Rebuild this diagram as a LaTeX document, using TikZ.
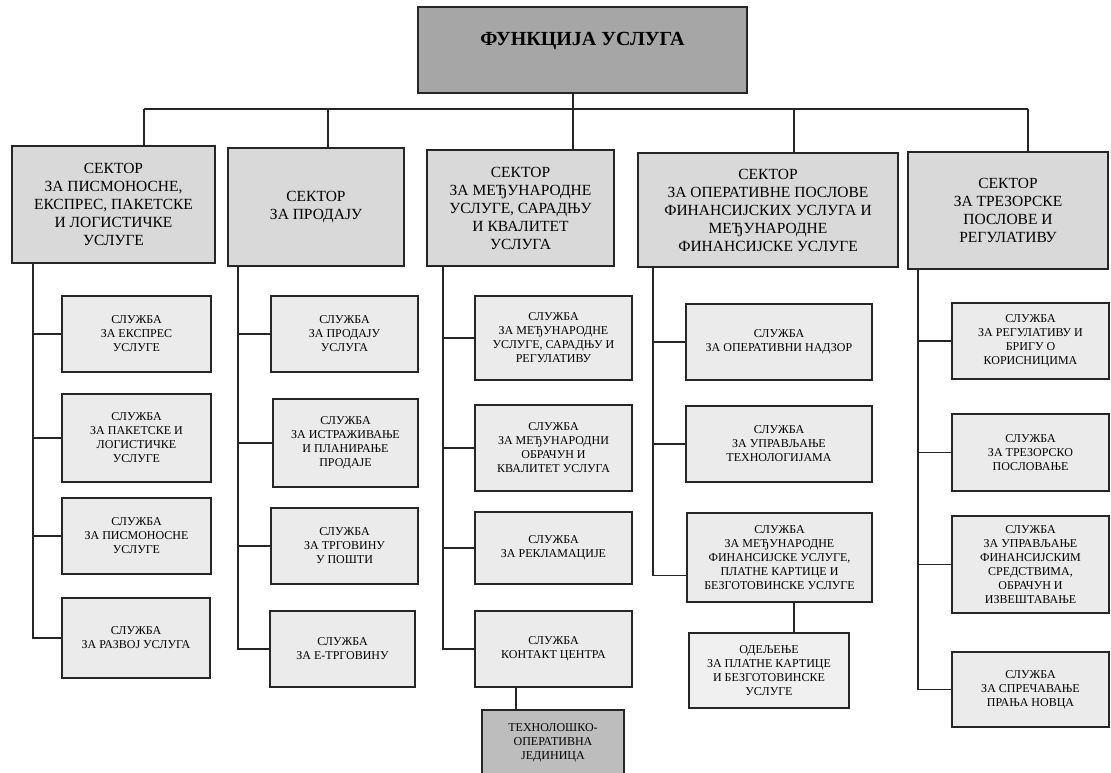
\documentclass[tikz,border=0pt]{standalone}
\usepackage{fontspec}
\setmainfont{Liberation Serif}

\begin{document}
\begin{tikzpicture}[
    x=1pt,y=-1pt,
    line width=1.2pt,line join=miter,
    box/.style={rectangle,draw=black!85,inner sep=0pt,align=center},
    head/.style={box,fill=gray!70,font=\bfseries\fontsize{20}{24}\selectfont},
    sector/.style={box,fill=gray!30,font=\fontsize{15.5}{18}\selectfont},
    unit/.style={box,fill=gray!16,font=\fontsize{12}{14}\selectfont},
    dept/.style={unit,fill=gray!12},
    techunit/.style={unit,fill=gray!52},
    wire/.style={draw=black!85}
  ]
    \useasboundingbox (0,0) rectangle (1111,773);

    \node (top) [head,minimum width=329pt,minimum height=86pt,
        text height=14pt,text depth=22pt] at (582.5,50) {ФУНКЦИЈА УСЛУГА};

    \node (s1) [sector,minimum width=203pt,minimum height=117pt] at (113.5,204.5)
        {СЕКТОР\\ЗА ПИСМОНОСНЕ,\\ЕКСПРЕС, ПАКЕТСКЕ\\И ЛОГИСТИЧКЕ\\УСЛУГЕ};
    \node (s2) [sector,minimum width=176pt,minimum height=118pt] at (316,207)
        {СЕКТОР\\ЗА ПРОДАЈУ};
    \node (s3) [sector,minimum width=187pt,minimum height=116pt] at (520.5,208)
        {СЕКТОР\\ЗА МЕЂУНАРОДНЕ\\УСЛУГЕ, САРАДЊУ\\И КВАЛИТЕТ\\УСЛУГА};
    \node (s4) [sector,minimum width=260pt,minimum height=114pt] at (768,210)
        {СЕКТОР\\ЗА ОПЕРАТИВНЕ ПОСЛОВЕ\\ФИНАНСИЈСКИХ УСЛУГА И\\МЕЂУНАРОДНЕ\\ФИНАНСИЈСКЕ УСЛУГЕ};
    \node (s5) [sector,minimum width=200pt,minimum height=117pt] at (1008,210.5)
        {СЕКТОР\\ЗА ТРЕЗОРСКЕ\\ПОСЛОВЕ И\\РЕГУЛАТИВУ};

    % sluzbe, po sektorima
    \node (c1a) [unit,minimum width=149pt,minimum height=76pt] at (136.5,334)
        {СЛУЖБА\\ЗА ЕКСПРЕС\\УСЛУГЕ};
    \node (c1b) [unit,minimum width=149pt,minimum height=88pt] at (136.5,438)
        {СЛУЖБА\\ЗА ПАКЕТСКЕ И\\ЛОГИСТИЧКЕ\\УСЛУГЕ};
    \node (c1c) [unit,minimum width=149pt,minimum height=76pt] at (136.5,536)
        {СЛУЖБА\\ЗА ПИСМОНОСНЕ\\УСЛУГЕ};
    \node (c1d) [unit,minimum width=148pt,minimum height=80pt] at (136,638)
        {СЛУЖБА\\ЗА РАЗВОЈ УСЛУГА};

    \node (c2a) [unit,minimum width=147pt,minimum height=76pt] at (344.5,334)
        {СЛУЖБА\\ЗА ПРОДАЈУ\\УСЛУГА};
    \node (c2b) [unit,minimum width=145pt,minimum height=88pt] at (345.5,443)
        {СЛУЖБА\\ЗА ИСТРАЖИВАЊЕ\\И ПЛАНИРАЊЕ\\ПРОДАЈЕ};
    \node (c2c) [unit,minimum width=147pt,minimum height=76pt] at (344.5,546)
        {СЛУЖБА\\ЗА ТРГОВИНУ\\У ПОШТИ};
    \node (c2d) [unit,minimum width=145pt,minimum height=76pt] at (342.5,649)
        {СЛУЖБА\\ЗА Е-ТРГОВИНУ};

    \node (c3a) [unit,minimum width=157pt,minimum height=84pt] at (553.5,338)
        {СЛУЖБА\\ЗА МЕЂУНАРОДНЕ\\УСЛУГЕ, САРАДЊУ И\\РЕГУЛАТИВУ};
    \node (c3b) [unit,minimum width=157pt,minimum height=86pt] at (553.5,448)
        {СЛУЖБА\\ЗА МЕЂУНАРОДНИ\\ОБРАЧУН И\\КВАЛИТЕТ УСЛУГА};
    \node (c3c) [unit,minimum width=157pt,minimum height=72pt] at (553.5,548)
        {СЛУЖБА\\ЗА РЕКЛАМАЦИЈЕ};
    \node (c3d) [unit,minimum width=157pt,minimum height=76pt] at (553.5,649)
        {СЛУЖБА\\КОНТАКТ ЦЕНТРА};
    \node (tech) [techunit,minimum width=142pt,minimum height=66pt] at (553,743)
        {ТЕХНОЛОШКО-\\ОПЕРАТИВНА\\ЈЕДИНИЦА};

    \node (c4a) [unit,minimum width=186pt,minimum height=76pt] at (779,342)
        {СЛУЖБА\\ЗА ОПЕРАТИВНИ НАДЗОР};
    \node (c4b) [unit,minimum width=186pt,minimum height=76pt] at (779,444)
        {СЛУЖБА\\ЗА УПРАВЉАЊЕ\\ТЕХНОЛОГИЈАМА};
    \node (c4c) [unit,minimum width=185pt,minimum height=89pt] at (779.5,557.5)
        {СЛУЖБА\\ЗА МЕЂУНАРОДНЕ\\ФИНАНСИЈСКЕ УСЛУГЕ,\\ПЛАТНЕ КАРТИЦЕ И\\БЕЗГОТОВИНСКЕ УСЛУГЕ};
    \node (odel) [dept,minimum width=160pt,minimum height=75pt] at (769,670.5)
        {ОДЕЉЕЊЕ\\ЗА ПЛАТНЕ КАРТИЦЕ\\И БЕЗГОТОВИНСКЕ\\УСЛУГЕ};

    \node (c5a) [unit,minimum width=157pt,minimum height=76pt] at (1030.5,341)
        {СЛУЖБА\\ЗА РЕГУЛАТИВУ И\\БРИГУ О\\КОРИСНИЦИМА};
    \node (c5b) [unit,minimum width=157pt,minimum height=77pt] at (1030.5,452.5)
        {СЛУЖБА\\ЗА ТРЕЗОРСКО\\ПОСЛОВАЊЕ};
    \node (c5c) [unit,minimum width=157pt,minimum height=97pt] at (1030.5,564.5)
        {СЛУЖБА\\ЗА УПРАВЉАЊЕ\\ФИНАНСИЈСКИМ\\СРЕДСТВИМА,\\ОБРАЧУН И\\ИЗВЕШТАВАЊЕ};
    \node (c5d) [unit,minimum width=157pt,minimum height=75pt] at (1030.5,689.5)
        {СЛУЖБА\\ЗА СПРЕЧАВАЊЕ\\ПРАЊА НОВЦА};

    \coordinate (b1) at (144,109);
    \coordinate (b2) at (328,109);
    \coordinate (b3) at (573,109);
    \coordinate (b4) at (794,109);
    \coordinate (b5) at (1028,109);
    \coordinate (p1) at (s1.south -| 33,0);
    \coordinate (p2) at (s2.south -| 238,0);
    \coordinate (p3) at (s3.south -| 443,0);
    \coordinate (p4) at (s4.south -| 653,0);
    \coordinate (p5) at (s5.south -| 918,0);

    \begin{scope}[every path/.style=wire]
     \draw (b1) -- (b5);
     \draw (top.south -| b3) -- (b3);
     \foreach \i in {1,...,5}
        \draw (b\i) -- (s\i.north -| b\i);

     \foreach \i in {1,2,3,5} {
        \draw (p\i) |- (c\i d);
        \foreach \j in {a,b,c}
            \draw (p\i |- c\i\j) -- (c\i\j);
     }
     \draw (p4) |- ([yshift=-18pt]c4c.west);
     \draw (p4 |- c4a) -- (c4a);
     \draw (p4 |- c4b) -- (c4b);

     \draw (c3d.south -| 516,0) -- (tech.north -| 516,0);
     \draw (c4c.south -| b4) -- (odel.north -| b4);
    \end{scope}
\end{tikzpicture}
\end{document}
